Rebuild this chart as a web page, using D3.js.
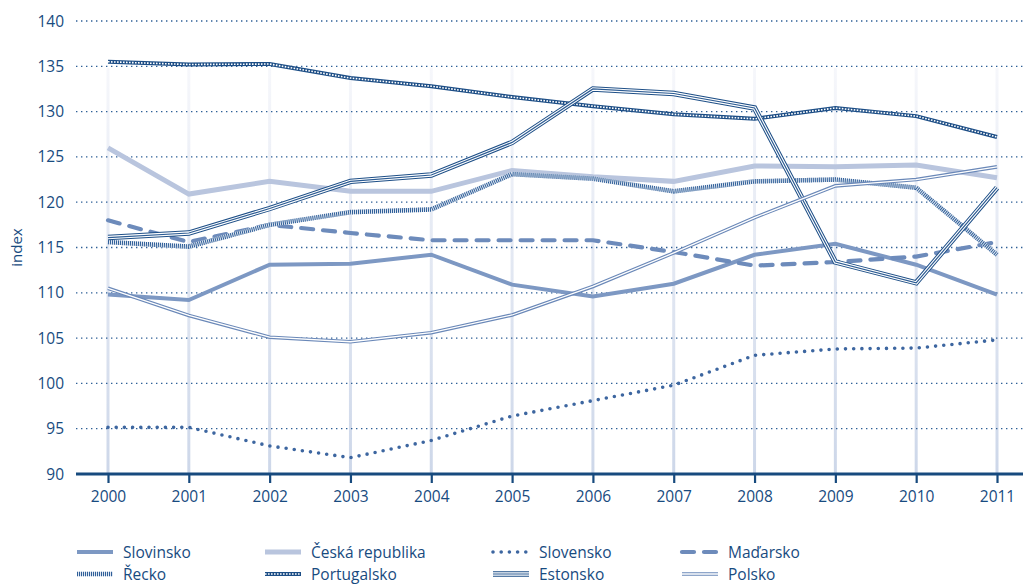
<!DOCTYPE html>
<html><head><meta charset="utf-8">
<script src="https://cdn.jsdelivr.net/npm/d3@7"></script>
<style>
html,body{margin:0;padding:0;background:#fff;}
text{font-family:"Open Sans","Noto Sans",sans-serif;fill:#184b80;}
</style></head>
<body>
<svg id="chart" width="1023" height="586"></svg>
<script>
const years = [2000,2001,2002,2003,2004,2005,2006,2007,2008,2009,2010,2011];
const yTicks = [90,95,100,105,110,115,120,125,130,135,140];
const seriesNames = ["Slovinsko","Česká republika","Slovensko","Maďarsko","Řecko","Portugalsko","Estonsko","Polsko"];
const slovinsko = [109.8,109.2,113.1,113.2,114.2,110.9,109.6,111.0,114.2,115.4,113.1,109.8];
const ceska = [126.0,120.9,122.3,121.2,121.2,123.5,122.8,122.3,124.0,123.9,124.1,122.7];
const slovensko = [95.15,95.15,93.1,91.8,93.7,96.4,98.1,99.8,103.1,103.8,103.9,104.8];
const madarsko = [118.0,115.6,117.5,116.6,115.8,115.8,115.8,114.5,113.0,113.4,114.0,115.6];
const recko = [115.6,115.1,117.5,118.9,119.2,123.1,122.6,121.2,122.3,122.5,121.6,114.2];
const portugalsko = [135.5,135.2,135.25,133.7,132.8,131.6,130.6,129.7,129.2,130.4,129.5,127.2];
const estonsko = [116.1,116.6,119.3,122.3,123.0,126.6,132.5,132.0,130.4,113.4,111.1,121.6];
const polsko = [110.5,107.5,105.1,104.6,105.6,107.55,110.7,114.4,118.3,121.8,122.5,123.9];

// style layers per series (drawn bottom to top)
const styles = {
  "Slovinsko": [{c:"#7d98c3",w:4}],
  "Česká republika": [{c:"#b9c5de",w:5}],
  "Slovensko": [{c:"#3d66a0",w:3.6,d:"0,8.2",cap:"round"}],
  "Maďarsko": [{c:"#6d8bbb",w:4.2,d:"12,10",cap:"round"}],
  "Řecko": [{c:"#dfe6f1",w:4.6},{c:"#2f5f98",w:4.6,d:"1,1"}],
  "Portugalsko": [{c:"#1d4e86",w:4},{c:"#ffffff",w:1.6,d:"1.6,1.4"}],
  "Estonsko": [{c:"#1e4f87",w:5.4},{c:"#ffffff",w:3.4},{c:"#2a5a92",w:1.2}],
  "Polsko": [{c:"#6a88b8",w:3.6},{c:"#ffffff",w:1.3}]
};
const data = [slovinsko,ceska,slovensko,madarsko,recko,portugalsko,estonsko,polsko];

const svg = d3.select("#chart");
const x = d3.scaleLinear().domain([2000,2011]).range([108,997]);
const y = d3.scaleLinear().domain([90,140]).range([474,21]);

const defs = svg.append("defs");
const grad = defs.append("linearGradient").attr("id","vg").attr("x1",0).attr("y1",0).attr("x2",0).attr("y2",1);
grad.append("stop").attr("offset","0%").attr("stop-color","#f6f7fb");
grad.append("stop").attr("offset","100%").attr("stop-color","#cdd7e9");

// vertical light bands
svg.append("g").selectAll("rect").data(years).join("rect")
  .attr("x",d=>x(d)-1.5).attr("width",3)
  .attr("y",y(134.8)).attr("height",y(90)-y(134.8))
  .attr("fill","url(#vg)");

// horizontal dotted gridlines
svg.append("g").selectAll("line").data(yTicks.filter(t=>t>90)).join("line")
  .attr("x1",76).attr("x2",1023)
  .attr("y1",d=>y(d)).attr("y2",d=>y(d))
  .attr("stroke","#2e5f96").attr("stroke-width",1.3).attr("stroke-dasharray","1.4,3.6");

// y tick labels
svg.append("g").selectAll("text").data(yTicks).join("text")
  .attr("x",64).attr("y",d=>y(d)).attr("dy","0.36em")
  .attr("text-anchor","end").attr("font-size",15.5).text(d=>d);

// y axis title
svg.append("text").attr("transform",`translate(22,${y(115)}) rotate(-90)`)
  .attr("text-anchor","middle").attr("font-size",15).text("index");

// series lines
const line = d3.line().x((d,i)=>x(years[i])).y(d=>y(d));
const gLines = svg.append("g");
seriesNames.forEach((name,si)=>{
  styles[name].forEach(s=>{
    gLines.append("path").datum(data[si]).attr("d",line)
      .attr("fill","none").attr("stroke",s.c).attr("stroke-width",s.w)
      .attr("stroke-dasharray",s.d||null)
      .attr("stroke-linecap",s.cap||"butt").attr("stroke-linejoin","miter");
  });
});

// x axis
const xAxis = d3.axisBottom(x).tickValues(years).tickFormat(d3.format("d")).tickSize(9).tickPadding(8);
const gx = svg.append("g").attr("transform",`translate(0,${y(90)})`).call(xAxis);
gx.select(".domain").remove();
gx.selectAll(".tick line").attr("stroke","#174a7e").attr("stroke-width",2.2);
gx.selectAll(".tick text").attr("font-size",15.5).attr("fill","#184b80").attr("font-family","'Open Sans',sans-serif");
svg.append("line").attr("x1",76).attr("x2",1023).attr("y1",y(90)).attr("y2",y(90))
  .attr("stroke","#174a7e").attr("stroke-width",3);

// legend
const legCols = [77,265,493,682];
const legRows = [552,574];
const legOrder = ["Slovinsko","Česká republika","Slovensko","Maďarsko","Řecko","Portugalsko","Estonsko","Polsko"];
const gl = svg.append("g");
legOrder.forEach((name,i)=>{
  const cx = legCols[i%4], cy = legRows[Math.floor(i/4)];
  styles[name].forEach(s=>{
    gl.append("line").attr("x1",cx).attr("x2",cx+36).attr("y1",cy).attr("y2",cy)
      .attr("stroke",s.c).attr("stroke-width",s.w)
      .attr("stroke-dasharray",s.d||null).attr("stroke-linecap",s.cap||"butt");
  });
  gl.append("text").attr("x",cx+46).attr("y",cy).attr("dy","0.36em")
    .attr("font-size",15.5).text(name);
});
</script>
</body></html>
